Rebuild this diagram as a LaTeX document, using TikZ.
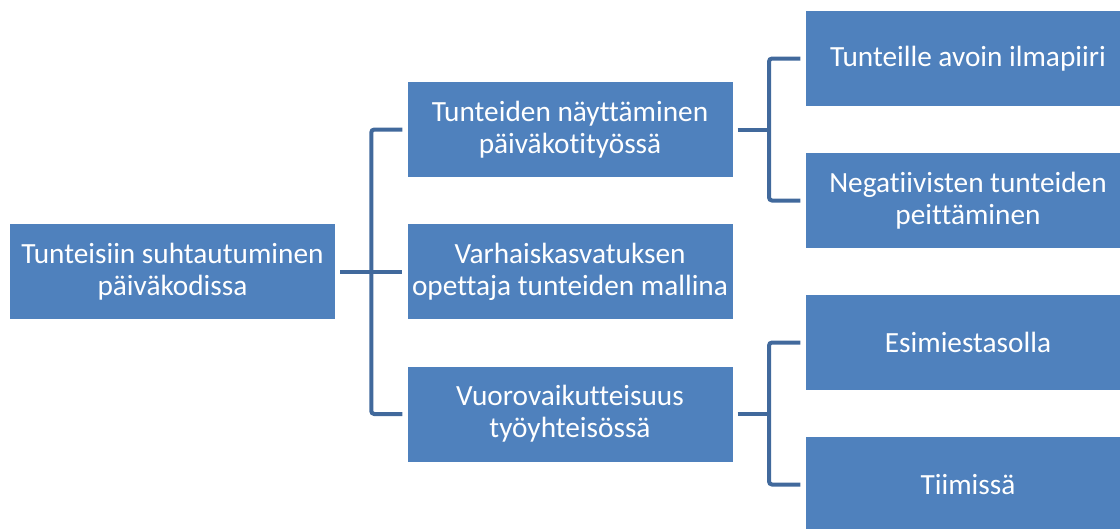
\documentclass[tikz,border=0pt]{standalone}
\usepackage{fontspec}
\setmainfont[Ligatures=NoCommon]{Carlito}
\usetikzlibrary{calc}
\definecolor{boxblue}{HTML}{4F81BD}
\definecolor{linkblue}{HTML}{41699C}
\begin{document}
\begin{tikzpicture}[x=1pt,y=-1pt,
  box/.style={fill=boxblue, draw=none, text=white, align=center,
    font=\fontsize{29.3}{32}\selectfont, inner sep=0pt,
    minimum width=325pt, minimum height=95pt},
  link/.style={draw=linkblue, line width=4pt, rounded corners=3pt}]
\useasboundingbox (0,0) rectangle (1120,528);
\clip (0,0) rectangle (1120,528);
\node[box] (root) at (172.5,271.5) {Tunteisiin suhtautuminen\\päiväkodissa};
\node[box] (m1) at (570,129.5) {Tunteiden näyttäminen\\päiväkotityössä};
\node[box] (m2) at (570,271.5) {Varhaiskasvatuksen\\opettaja tunteiden mallina};
\node[box] (m3) at (570,414) {Vuorovaikutteisuus\\työyhteisössä};
\node[box] (l1) at (968,58.5) {Tunteille avoin ilmapiiri};
\node[box] (l2) at (968,200.5) {Negatiivisten tunteiden\\peittäminen};
\node[box] (l3) at (968,342.5) {Esimiestasolla};
\node[box] (l4) at (968,484.5) {Tiimissä};
\coordinate (j1) at ($(root.east)!0.5!(m2.west)$);
\coordinate (j2) at ($(m1.east)!0.5!(l1.west)$);
\coordinate (j3) at ($(m3.east)!0.5!(l3.west)$);
\draw[link] ([xshift=5pt]root.east) -- ([xshift=-5pt]m2.west);
\draw[link] ([xshift=-5pt]m1.west) -| (j1) |- ([xshift=-5pt]m3.west);
\draw[link] ([xshift=5pt]m1.east) -- (j2 |- m1.east);
\draw[link] ([xshift=-5pt]l1.west) -| (j2) |- ([xshift=-5pt]l2.west);
\draw[link] ([xshift=5pt]m3.east) -- (j3 |- m3.east);
\draw[link] ([xshift=-5pt]l3.west) -| (j3) |- ([xshift=-5pt]l4.west);
\end{tikzpicture}
\end{document}
